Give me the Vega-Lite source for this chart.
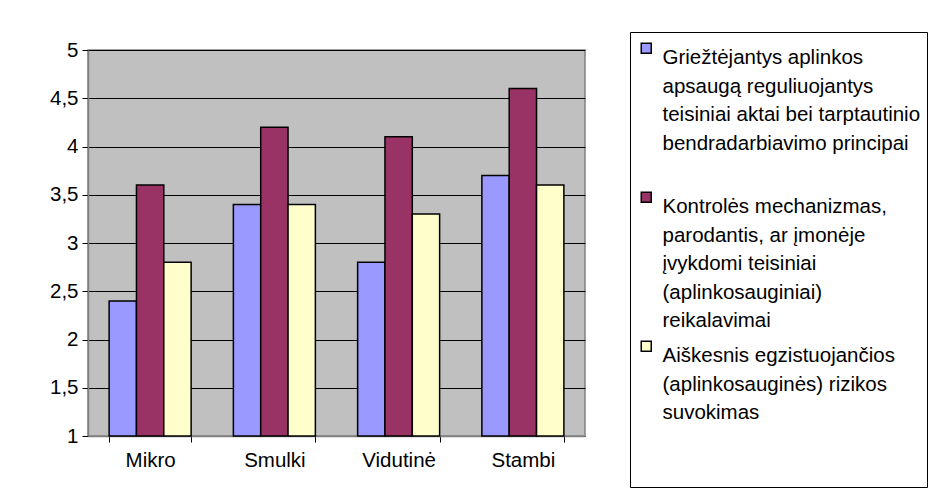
{
  "$schema": "https://vega.github.io/schema/vega-lite/v6.json",
  "autosize": "none",
  "width": 497,
  "height": 386,
  "padding": {"left": 88, "top": 50, "right": 344, "bottom": 68},
  "background": "white",
  "config": {
    "font": "Liberation Sans",
    "view": {"fill": "#C0C0C0", "stroke": "#808080", "strokeWidth": 1.5}
  },
  "data": {
    "values": [
      {"kategorija": "Mikro", "serija": "Griežtėjantys aplinkos|apsaugą reguliuojantys|teisiniai aktai bei tarptautinio|bendradarbiavimo principai", "reiksme": 2.4},
      {"kategorija": "Mikro", "serija": "Kontrolės mechanizmas,|parodantis, ar įmonėje|įvykdomi teisiniai|(aplinkosauginiai)|reikalavimai", "reiksme": 3.6},
      {"kategorija": "Mikro", "serija": "Aiškesnis egzistuojančios|(aplinkosauginės) rizikos|suvokimas", "reiksme": 2.8},
      {"kategorija": "Smulki", "serija": "Griežtėjantys aplinkos|apsaugą reguliuojantys|teisiniai aktai bei tarptautinio|bendradarbiavimo principai", "reiksme": 3.4},
      {"kategorija": "Smulki", "serija": "Kontrolės mechanizmas,|parodantis, ar įmonėje|įvykdomi teisiniai|(aplinkosauginiai)|reikalavimai", "reiksme": 4.2},
      {"kategorija": "Smulki", "serija": "Aiškesnis egzistuojančios|(aplinkosauginės) rizikos|suvokimas", "reiksme": 3.4},
      {"kategorija": "Vidutinė", "serija": "Griežtėjantys aplinkos|apsaugą reguliuojantys|teisiniai aktai bei tarptautinio|bendradarbiavimo principai", "reiksme": 2.8},
      {"kategorija": "Vidutinė", "serija": "Kontrolės mechanizmas,|parodantis, ar įmonėje|įvykdomi teisiniai|(aplinkosauginiai)|reikalavimai", "reiksme": 4.1},
      {"kategorija": "Vidutinė", "serija": "Aiškesnis egzistuojančios|(aplinkosauginės) rizikos|suvokimas", "reiksme": 3.3},
      {"kategorija": "Stambi", "serija": "Griežtėjantys aplinkos|apsaugą reguliuojantys|teisiniai aktai bei tarptautinio|bendradarbiavimo principai", "reiksme": 3.7},
      {"kategorija": "Stambi", "serija": "Kontrolės mechanizmas,|parodantis, ar įmonėje|įvykdomi teisiniai|(aplinkosauginiai)|reikalavimai", "reiksme": 4.6},
      {"kategorija": "Stambi", "serija": "Aiškesnis egzistuojančios|(aplinkosauginės) rizikos|suvokimas", "reiksme": 3.6}
    ]
  },
  "mark": {"type": "bar", "stroke": "black", "strokeWidth": 1.5},
  "encoding": {
    "x": {
      "field": "kategorija",
      "type": "nominal",
      "sort": ["Mikro", "Smulki", "Vidutinė", "Stambi"],
      "scale": {"paddingInner": 0.34, "paddingOuter": 0.17},
      "axis": {
        "title": null,
        "labelAngle": 0,
        "labelFontSize": 20.5,
        "labelColor": "black",
        "labelPadding": 8,
        "domainColor": "#808080",
        "domainWidth": 1.5,
        "tickColor": "black",
        "tickBand": "extent",
        "tickSize": 6
      }
    },
    "xOffset": {
      "field": "serija",
      "type": "nominal",
      "sort": null
    },
    "y": {
      "field": "reiksme",
      "type": "quantitative",
      "scale": {"domain": [1, 5], "zero": false, "nice": false},
      "axis": {
        "title": null,
        "values": [1, 1.5, 2, 2.5, 3, 3.5, 4, 4.5, 5],
        "labelExpr": "replace(toString(datum.value), '.', ',')",
        "labelFontSize": 20.5,
        "labelColor": "black",
        "labelPadding": 4,
        "gridColor": "black",
        "gridWidth": 1,
        "domainColor": "#808080",
        "domainWidth": 1.5,
        "tickColor": "black",
        "tickSize": 6
      }
    },
    "y2": {"datum": 1},
    "color": {
      "field": "serija",
      "type": "nominal",
      "sort": null,
      "scale": {"range": ["#9999FF", "#993366", "#FFFFCC"]},
      "legend": {
        "title": null,
        "orient": "none",
        "legendX": 542,
        "legendY": -18,
        "direction": "vertical",
        "fillColor": "white",
        "strokeColor": "black",
        "padding": 6,
        "rowPadding": 4,
        "symbolType": "square",
        "symbolSize": 100,
        "symbolStrokeColor": "black",
        "symbolStrokeWidth": 1.5,
        "symbolOpacity": 1,
        "labelFontSize": 20.5,
        "labelColor": "black",
        "labelLimit": 360,
        "labelOffset": 6,
        "labelBaseline": "top",
        "labelExpr": "indexof(datum.label, 'Griež') == 0 ? split(datum.label + '| ', '|') : indexof(datum.label, 'Aišk') == 0 ? split(datum.label + '| | ', '|') : split(datum.label, '|')",
        "encode": {
          "labels": {"update": {"lineHeight": {"value": 28.5}, "fontSize": {"value": 20.5}}}
        }
      }
    }
  }
}
